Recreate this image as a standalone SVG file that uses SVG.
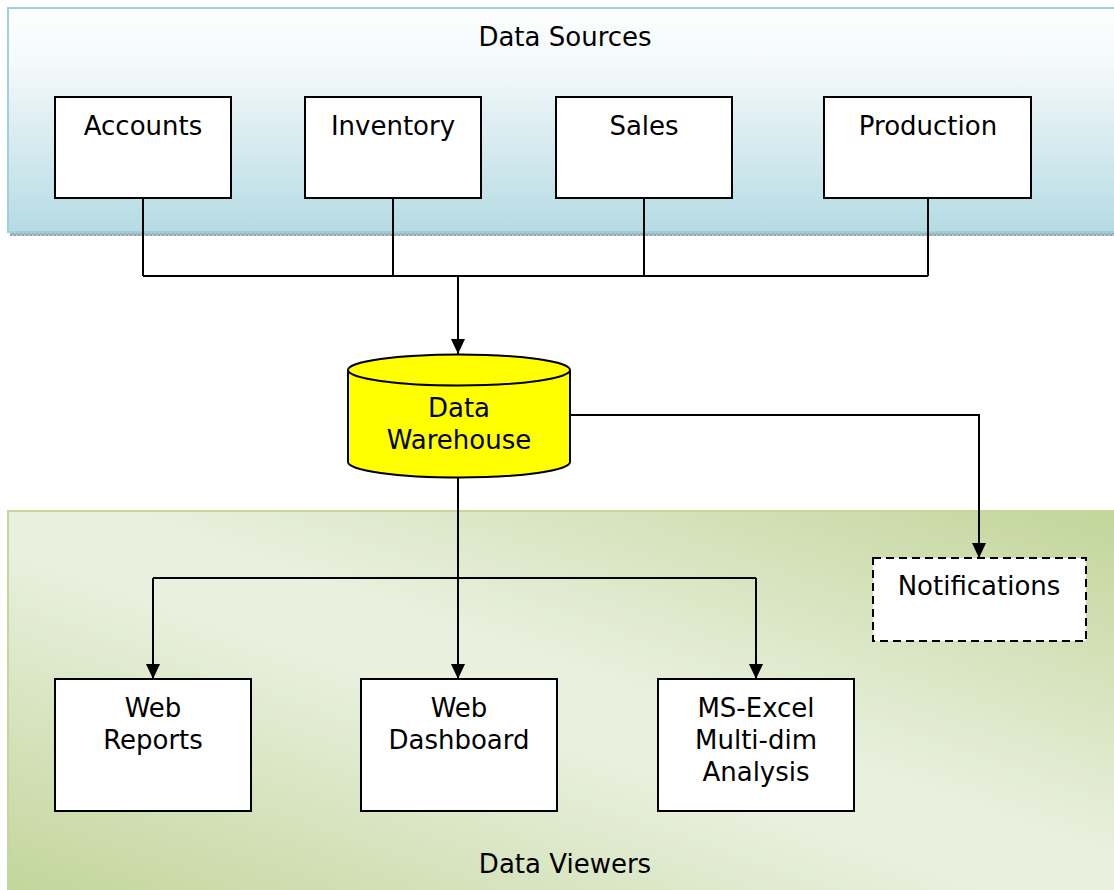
<svg xmlns="http://www.w3.org/2000/svg" width="1114" height="890" viewBox="0 0 1114 890">
<defs>
<linearGradient id="gTop" x1="0" y1="0" x2="0" y2="1">
<stop offset="0" stop-color="#fdfefe"/>
<stop offset="0.25" stop-color="#f4f9fa"/>
<stop offset="1" stop-color="#b5dbe4"/>
</linearGradient>
<linearGradient id="gBot" x1="1" y1="0" x2="0" y2="1">
<stop offset="0" stop-color="#c2d59a"/>
<stop offset="0.45" stop-color="#e9f0de"/>
<stop offset="0.55" stop-color="#e9f0de"/>
<stop offset="1" stop-color="#c2d59a"/>
</linearGradient>
<pattern id="dots" width="4" height="4" patternUnits="userSpaceOnUse">
<rect width="4" height="4" fill="#b0c4c8"/>
<rect width="2" height="2" fill="#8fa6ab"/>
<rect x="2" y="2" width="2" height="2" fill="#8fa6ab"/>
</pattern>
<marker id="arr" viewBox="0 0 15 14" refX="15" refY="7" markerWidth="15" markerHeight="14" markerUnits="userSpaceOnUse" orient="auto">
<path d="M0,0 L15,7 L0,14 Z" fill="#000"/>
</marker>
</defs>
<style>
text{font-family:"DejaVu Sans","Verdana",sans-serif;font-size:26px;fill:#000;text-anchor:middle}
.box{fill:#fff;stroke:#000;stroke-width:2}
.ln{fill:none;stroke:#000;stroke-width:2}
</style>
<rect x="0" y="0" width="1114" height="890" fill="#fff"/>
<g id="panel-sources">
<rect x="10" y="232" width="1104" height="4" fill="url(#dots)"/>
<rect x="8" y="8" width="1110" height="224" fill="url(#gTop)" stroke="#9fd1dc" stroke-width="2"/>
<text x="565" y="46">Data Sources</text>
</g>
<g id="panel-viewers">
<rect x="8" y="511" width="1110" height="385" fill="url(#gBot)" stroke="#c3d69b" stroke-width="2"/>
<text x="565" y="873">Data Viewers</text>
</g>
<g id="connectors">
<path class="ln" d="M143,198 V276 M393,198 V276 M644,198 V276 M928,198 V276 M143,276 H928"/>
<path class="ln" d="M458,276 V354" marker-end="url(#arr)"/>
<path class="ln" d="M570,415 H979 V558" marker-end="url(#arr)"/>
<path class="ln" d="M458,477 V578 M153,578 H756"/>
<path class="ln" d="M153,578 V679" marker-end="url(#arr)"/>
<path class="ln" d="M458,578 V679" marker-end="url(#arr)"/>
<path class="ln" d="M756,578 V679" marker-end="url(#arr)"/>
</g>
<g id="accounts"><rect class="box" x="55" y="97" width="176" height="101"/><text x="143" y="135">Accounts</text></g>
<g id="inventory"><rect class="box" x="305" y="97" width="176" height="101"/><text x="393" y="135">Inventory</text></g>
<g id="sales"><rect class="box" x="556" y="97" width="176" height="101"/><text x="644" y="135">Sales</text></g>
<g id="production"><rect class="box" x="824" y="97" width="207" height="101"/><text x="928" y="135">Production</text></g>
<g id="warehouse">
<path d="M348,370 V462 A111,15.5 0 0 0 570,462 V370 A111,15.5 0 0 0 348,370 Z" fill="#ffff00" stroke="#000" stroke-width="2"/>
<path d="M348,370 A111,15.5 0 0 0 570,370" fill="none" stroke="#000" stroke-width="2"/>
<text x="459" y="417">Data</text>
<text x="459" y="449">Warehouse</text>
</g>
<g id="notifications"><rect x="873" y="558" width="213" height="83" fill="#fff" stroke="#000" stroke-width="2" stroke-dasharray="8,5"/><text x="979" y="595">Notifications</text></g>
<g id="web-reports"><rect class="box" x="55" y="679" width="196" height="132"/><text x="153" y="717">Web</text><text x="153" y="749">Reports</text></g>
<g id="web-dashboard"><rect class="box" x="361" y="679" width="196" height="132"/><text x="459" y="717">Web</text><text x="459" y="749">Dashboard</text></g>
<g id="ms-excel"><rect class="box" x="658" y="679" width="196" height="132"/><text x="756" y="717">MS-Excel</text><text x="756" y="749">Multi-dim</text><text x="756" y="781">Analysis</text></g>
</svg>
